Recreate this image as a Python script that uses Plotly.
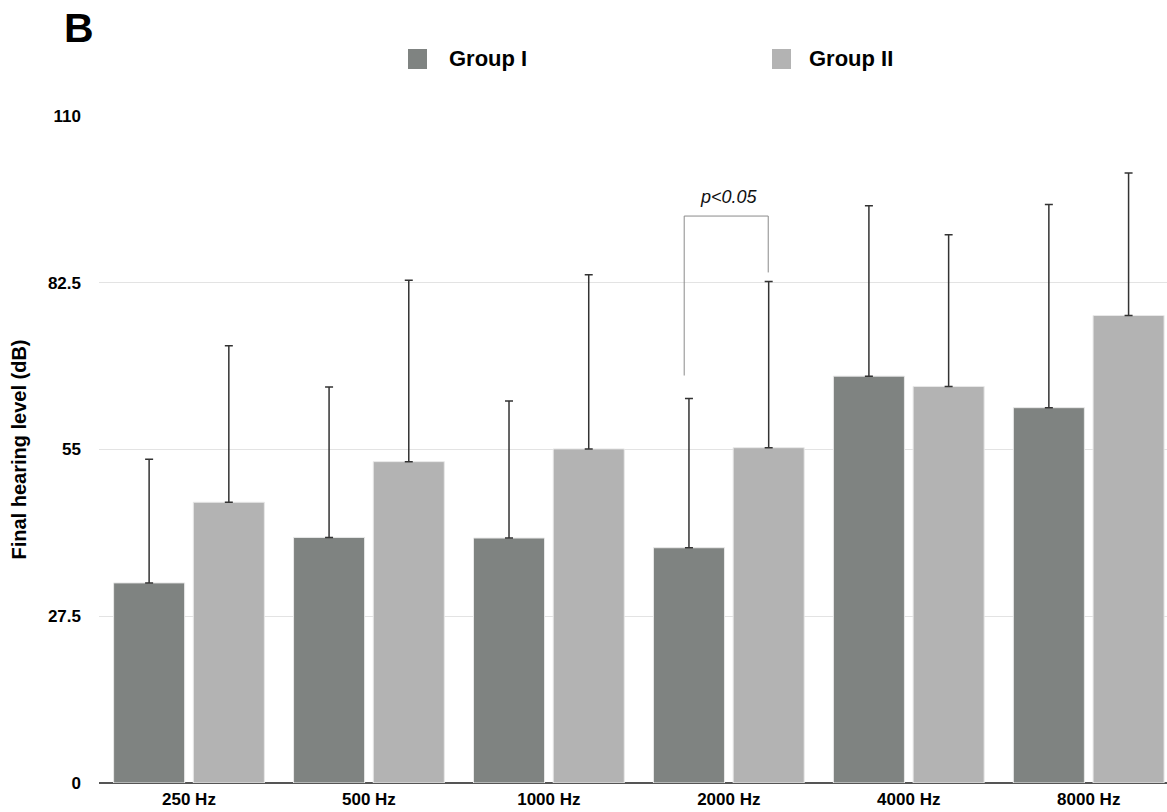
import plotly.graph_objects as go

categories = ["250 Hz", "500 Hz", "1000 Hz", "2000 Hz", "4000 Hz", "8000 Hz"]
group1_mean = [33.0, 40.5, 40.4, 38.8, 67.1, 61.9]
group1_sd = [20.4, 24.8, 22.6, 24.6, 28.1, 33.5]
group2_mean = [46.3, 53.0, 55.1, 55.3, 65.4, 77.1]
group2_sd = [25.8, 29.9, 28.7, 27.4, 25.0, 23.5]
series_names = ["Group I", "Group II"]
y_ticks = [0, 27.5, 55, 82.5, 110]
y_tick_labels = ["0", "27.5", "55", "82.5", "110"]

C1 = "#7f8381"
C2 = "#b3b3b3"
FONT = "Liberation Sans, Arial, Helvetica, sans-serif"

W, H = 1167, 812
L, R, T, B = 99, 0, 116, 29
PW = W - L - R
PH = H - T - B


def px_x(page_x):
    return (page_x - L) / PW


def px_y(page_y):
    return (H - B - page_y) / PH


fig = go.Figure()
for name, mean, sd, col in [(series_names[0], group1_mean, group1_sd, C1),
                            (series_names[1], group2_mean, group2_sd, C2)]:
    fig.add_trace(go.Bar(
        x=categories, y=mean, name=name, showlegend=False,
        marker=dict(color=col, line=dict(color="#e8e8e8", width=1)),
        error_y=dict(type="data", array=sd, symmetric=False, arrayminus=[0] * len(sd),
                     color="#333333", thickness=1.5, width=4),
    ))

# legend: squares + bold labels
for name, col, sq_left, txt_left in [(series_names[0], C1, 408, 447), (series_names[1], C2, 772, 807)]:
    fig.add_shape(type="rect", xref="paper", yref="paper",
                  x0=px_x(sq_left), x1=px_x(sq_left + 19), y0=px_y(69), y1=px_y(49),
                  fillcolor=col, line=dict(width=0), layer="above")
    fig.add_annotation(x=px_x(txt_left), y=px_y(58), xref="paper", yref="paper",
                       xanchor="left", yanchor="middle", text="<b>%s</b>" % name, showarrow=False,
                       font=dict(family=FONT, size=22, color="#000"))

# significance bracket at 2000 Hz
BR = dict(color="#8a8a8a", width=1)
fig.add_shape(type="line", xref="x", yref="y", x0=3 - 0.248, x1=3 - 0.248, y0=67.2, y1=93.5, line=BR)
fig.add_shape(type="line", xref="x", yref="y", x0=3 - 0.248, x1=3 + 0.219, y0=93.5, y1=93.5, line=BR)
fig.add_shape(type="line", xref="x", yref="y", x0=3 + 0.219, x1=3 + 0.219, y0=93.5, y1=84.2, line=BR)
fig.add_annotation(x=3, y=93.5, xref="x", yref="y", text="<i>p<0.05</i>", showarrow=False,
                   yanchor="bottom", yshift=7, font=dict(family=FONT, size=18, color="#111"))

fig.add_annotation(x=px_x(79), y=px_y(28), xref="paper", yref="paper",
                   xanchor="center", yanchor="middle", text="<b>B</b>", showarrow=False,
                   font=dict(family=FONT, size=41, color="#000"))

fig.update_layout(
    width=W, height=H,
    margin=dict(l=L, r=R, t=T, b=B, autoexpand=False),
    paper_bgcolor="white", plot_bgcolor="white",
    showlegend=False,
    barmode="group", bargap=0.114, bargroupgap=0.109,
    font=dict(family=FONT, color="#000"),
    xaxis=dict(range=[-0.5, (1167 - 98.7) / 180 - 0.5], showgrid=False, ticks="", showline=False,
               ticklabelstandoff=4,
               tickfont=dict(family=FONT, size=17, color="#000"),
               tickprefix="<b>", ticksuffix="</b>"),
    yaxis=dict(range=[0, 110], tickvals=y_ticks, ticktext=["<b>%s</b>" % t for t in y_tick_labels],
               showgrid=True, gridcolor="#e3e3e3", gridwidth=1,
               zeroline=True, zerolinecolor="#555555", zerolinewidth=2,
               ticks="", ticklabelstandoff=17,
               tickfont=dict(family=FONT, size=17, color="#000"),
               title=dict(text="<b>Final hearing level (dB)</b>", standoff=15,
                          font=dict(family=FONT, size=20, color="#000"))),
)

fig.write_html("out.html",
               config={"displayModeBar": False},
               post_script="document.body.style.margin='0';document.body.style.overflow='hidden';")
